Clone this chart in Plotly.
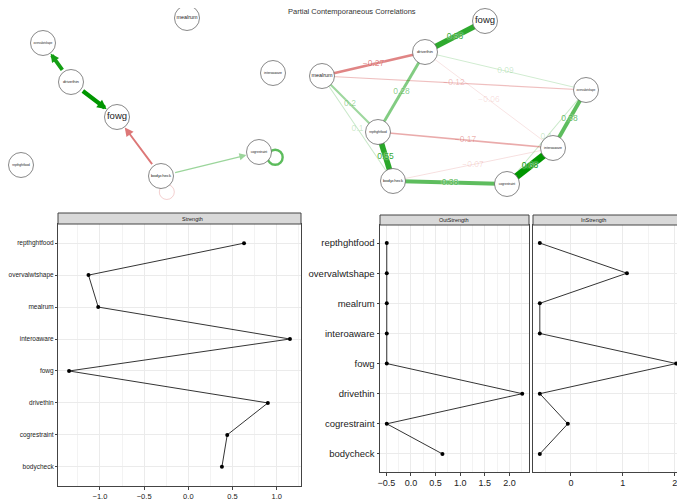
import math
import plotly.graph_objects as go

# page has an 8px body margin, so the figure is drawn 8px in from the top-left
OFF = 8
W, H = 685 - OFF, 499 - OFF
FONT = "Liberation Sans, Arial, sans-serif"


def fx(x):  # screen pixel -> paper x
    return (x - OFF) / W


def fy(y):  # screen pixel -> paper y
    return 1 - (y - OFF) / H


# ---- networks -------------------------------------------------------------
net_nodes = ["bodycheck", "cogrestraint", "drivethin", "fowg",
             "interoaware", "mealrum", "overvalwtshape", "repthghtfood"]
# temporal network layout
tmp_x = [161, 259, 71, 117, 273, 187, 43, 21]
tmp_y = [176, 152, 82, 117, 73, 18, 43, 165]
# contemporaneous network layout
con_x = [393, 507, 425, 485, 553, 322, 586, 378]
con_y = [181, 184, 52, 21, 148, 76, 90, 132]

# directed temporal edges (from, to, weight)
tmp_from = ["drivethin", "drivethin", "bodycheck", "bodycheck", "cogrestraint", "bodycheck"]
tmp_to = ["overvalwtshape", "fowg", "fowg", "cogrestraint", "cogrestraint", "bodycheck"]
tmp_w = [0.38, 0.42, -0.19, 0.13, 0.24, -0.07]
loop_angle = {"cogrestraint": 18, "bodycheck": 70}

# partial contemporaneous correlations
con_from = ["fowg", "drivethin", "drivethin", "drivethin", "drivethin", "mealrum", "mealrum",
            "mealrum", "repthghtfood", "repthghtfood", "bodycheck", "bodycheck",
            "cogrestraint", "interoaware", "cogrestraint"]
con_to = ["drivethin", "mealrum", "overvalwtshape", "repthghtfood", "interoaware",
          "overvalwtshape", "repthghtfood", "bodycheck", "interoaware", "bodycheck",
          "interoaware", "cogrestraint", "interoaware", "overvalwtshape", "overvalwtshape"]
con_w = [0.53, -0.27, 0.09, 0.28, -0.06, -0.12, 0.2, 0.1, -0.17, 0.55, -0.07, 0.38,
         0.68, 0.38, 0.1]

# ---- centrality -------------------------------------------------------------
cent_nodes = ["bodycheck", "cogrestraint", "drivethin", "fowg",
              "interoaware", "mealrum", "overvalwtshape", "repthghtfood"]
strength = [0.38, 0.44, 0.90, -1.35, 1.15, -1.02, -1.13, 0.63]
out_strength = [0.64, -0.49, 2.26, -0.49, -0.49, -0.49, -0.49, -0.49]
in_strength = [-0.60, -0.06, -0.60, 2.03, -0.60, -0.60, 1.08, -0.60]


def edge_col(w, wmax):
    a = min(1.0, abs(w) / wmax) ** 0.8
    a = max(a, 0.12)
    if w > 0:
        return f"rgba(0,150,0,{a:.2f})"
    return f"rgba(191,0,0,{a:.2f})"


def label_size(name):
    return min(9.5, 19.0 / (0.5 * len(name)))


fig = go.Figure()
annotations = []
shapes = []

# temporal network: arrows + self loops
tpos = {n: (x, y) for n, x, y in zip(net_nodes, tmp_x, tmp_y)}
tmax = max(abs(w) for w in tmp_w)
for a, b, w in zip(tmp_from, tmp_to, tmp_w):
    col = edge_col(w, tmax)
    width = max(0.8, 10 * abs(w))
    if a == b:
        ang = math.radians(loop_angle[a])
        cx = tpos[a][0] + 17 * math.cos(ang)
        cy = tpos[a][1] + 17 * math.sin(ang)
        r = 7.5
        shapes.append(dict(type="circle", xref="x", yref="y", x0=cx - r, x1=cx + r,
                           y0=cy - r, y1=cy + r, line=dict(color=col, width=width), layer="below"))
        continue
    annotations.append(dict(x=tpos[b][0], y=tpos[b][1], ax=tpos[a][0], ay=tpos[a][1],
                            xref="x", yref="y", axref="x", ayref="y", text="",
                            showarrow=True, arrowhead=2, arrowwidth=width,
                            arrowsize=max(0.45, 1.4 - 0.25 * width), arrowcolor=col,
                            standoff=13, startstandoff=13))

fig.add_trace(go.Scatter(x=tmp_x, y=tmp_y, mode="markers+text", text=net_nodes,
                         textfont=dict(size=[label_size(n) for n in net_nodes], color="#222", family=FONT),
                         marker=dict(size=25, color="white", line=dict(color="#555", width=0.7)),
                         xaxis="x", yaxis="y", hoverinfo="skip", showlegend=False))

# contemporaneous network
cpos = {n: (x, y) for n, x, y in zip(net_nodes, con_x, con_y)}
cmax = max(abs(w) for w in con_w)
order = sorted(range(len(con_w)), key=lambda i: abs(con_w[i]))
for i in order:
    a, b, w = con_from[i], con_to[i], con_w[i]
    fig.add_trace(go.Scatter(x=[cpos[a][0], cpos[b][0]], y=[cpos[a][1], cpos[b][1]],
                             mode="lines", line=dict(color=edge_col(w, cmax), width=max(0.8, 10.3 * abs(w))),
                             xaxis="x2", yaxis="y2", hoverinfo="skip", showlegend=False))
mx = [(cpos[a][0] + cpos[b][0]) / 2 for a, b in zip(con_from, con_to)]
my = [(cpos[a][1] + cpos[b][1]) / 2 for a, b in zip(con_from, con_to)]
fig.add_trace(go.Scatter(x=mx, y=my, mode="text", text=[f"{w:g}".replace("-", "\u2212") for w in con_w],
                         textfont=dict(size=8.5, family=FONT, color=[edge_col(w, cmax) for w in con_w],
                                       shadow="0px 0px 1.5px white, 0px 0px 2px white"),
                         xaxis="x2", yaxis="y2", hoverinfo="skip", showlegend=False))
fig.add_trace(go.Scatter(x=con_x, y=con_y, mode="markers+text", text=net_nodes,
                         textfont=dict(size=[label_size(n) for n in net_nodes], color="#222", family=FONT),
                         marker=dict(size=25, color="white", line=dict(color="#555", width=0.7)),
                         xaxis="x2", yaxis="y2", hoverinfo="skip", showlegend=False))

annotations.append(dict(x=fx(352), y=fy(5), xref="paper", yref="paper", showarrow=False,
                        text="Partial Contemporaneous Correlations",
                        font=dict(size=7.5, color="#333", family=FONT)))

# ---- centrality panels ----------------------------------------------------
for vals, ax in [(strength, "3"), (out_strength, "4"), (in_strength, "5")]:
    fig.add_trace(go.Scatter(x=vals, y=cent_nodes, mode="lines+markers",
                             line=dict(color="black", width=0.8), marker=dict(color="black", size=4),
                             xaxis="x" + ax, yaxis="y" + ax, hoverinfo="skip", showlegend=False))


def xr(vals):
    lo, hi = min(vals), max(vals)
    pad = 0.05 * (hi - lo)
    return [lo - pad, hi + pad]


frame = dict(showline=True, mirror=True, linecolor="#444", linewidth=1, zeroline=False,
             showgrid=True, gridcolor="#EBEBEB", gridwidth=0.8, ticks="outside",
             ticklen=2.5, tickcolor="#444", tickwidth=0.6, automargin=False)
minor_x = dict(showgrid=True, gridcolor="#F3F3F3", gridwidth=0.5, tick0=0)

hidden = dict(visible=False, automargin=False)
top = [fy(200), fy(OFF)]
layout_axes = dict(
    xaxis=dict(domain=[0, fx(300)], range=[OFF, 300], **hidden),
    yaxis=dict(domain=top, range=[200, OFF], **hidden),
    xaxis2=dict(domain=[fx(300), 1], range=[300, 685], anchor="y2", **hidden),
    yaxis2=dict(domain=top, range=[200, OFF], anchor="x2", **hidden),
    xaxis3=dict(domain=[fx(58), fx(301)], anchor="y3", range=xr(strength), tick0=0, dtick=0.5,
                tickformat=".1f", tickfont=dict(size=7.5, color="#222"),
                minor=dict(dtick=0.25, **minor_x), **frame),
    yaxis3=dict(domain=[fy(486), fy(224)], anchor="x3", type="category",
                categoryorder="array", categoryarray=cent_nodes, range=[-0.6, 7.6],
                tickfont=dict(size=6.5, color="#222"), **{**frame, "ticklen": 2}),
    xaxis4=dict(domain=[fx(380), fx(529)], anchor="y4", range=xr(out_strength), tick0=0, dtick=0.5,
                tickformat=".1f", tickfont=dict(size=9, color="#222"),
                minor=dict(dtick=0.25, **minor_x), **frame),
    yaxis4=dict(domain=[fy(472), fy(225)], anchor="x4", type="category",
                categoryorder="array", categoryarray=cent_nodes, range=[-0.6, 7.6],
                tickfont=dict(size=9.5, color="#222"), **frame),
    xaxis5=dict(domain=[fx(533), fx(683)], anchor="y5", range=xr(in_strength), tick0=0, dtick=1,
                tickfont=dict(size=9, color="#222"),
                minor=dict(dtick=0.5, **minor_x), **frame),
    yaxis5=dict(domain=[fy(472), fy(225)], anchor="x5", type="category",
                categoryorder="array", categoryarray=cent_nodes, range=[-0.6, 7.6],
                showticklabels=False, **{**frame, "ticks": ""}),
)

strips = [("Strength", 58, 301, 213, 224), ("OutStrength", 380, 529, 215, 225),
          ("InStrength", 533, 683, 215, 225)]
for name, x0, x1, y0, y1 in strips:
    shapes.append(dict(type="rect", xref="paper", yref="paper", x0=fx(x0), x1=fx(x1),
                       y0=fy(y1), y1=fy(y0), fillcolor="#D9D9D9",
                       line=dict(color="#444", width=1)))
    annotations.append(dict(x=fx((x0 + x1) / 2), y=fy((y0 + y1) / 2), xref="paper", yref="paper",
                            text=name, showarrow=False, font=dict(size=5.5, color="#1a1a1a", family=FONT)))

fig.update_layout(width=W, height=H, margin=dict(l=0, r=0, t=0, b=0, autoexpand=False),
                  paper_bgcolor="white", plot_bgcolor="white",
                  font=dict(family=FONT, color="#222"),
                  shapes=shapes, annotations=annotations, **layout_axes)

fig.write_html("out.html")
